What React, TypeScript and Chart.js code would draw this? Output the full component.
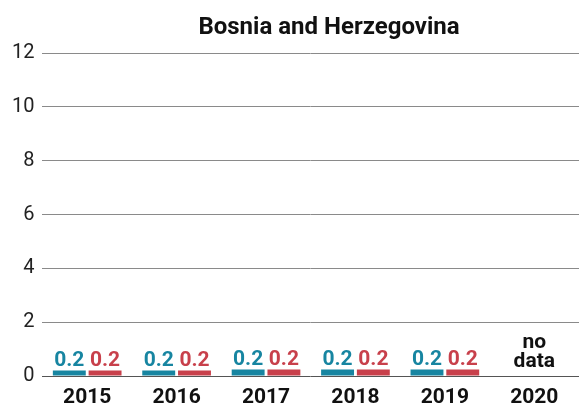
import React, { useEffect, useRef } from "react";
import { Chart, registerables } from "chart.js";

Chart.register(...registerables);

const TITLE = "Bosnia and Herzegovina";
const CATEGORIES = ["2015", "2016", "2017", "2018", "2019", "2020"];
const SERIES_A = [0.2, 0.2, 0.24, 0.24, 0.24, null];
const SERIES_B = [0.2, 0.2, 0.24, 0.24, 0.24, null];
const SERIES_A_NAME = "A";
const SERIES_B_NAME = "B";
const Y_TICKS = [0, 2, 4, 6, 8, 10, 12];
const NO_DATA_LINES = ["no", "data"];

const TEAL = "#1785a1";
const RED = "#c8404b";
const FONT = "Roboto";

export default function App() {
  const ref = useRef<HTMLCanvasElement | null>(null);

  useEffect(() => {
    document.body.style.margin = "0";
    const canvas = ref.current!;
    const labelPlugin = {
      id: "valueLabels",
      afterDatasetsDraw(chart: any) {
        const ctx = chart.ctx;
        ctx.save();
        ctx.font = `bold 21px ${FONT}`;
        ctx.textAlign = "center";
        ctx.textBaseline = "alphabetic";
        chart.data.datasets.forEach((ds: any, di: number) => {
          const meta = chart.getDatasetMeta(di);
          meta.data.forEach((bar: any, i: number) => {
            const v = ds.data[i];
            if (v === null || v === undefined) return;
            ctx.fillStyle = ds.backgroundColor;
            ctx.fillText(v.toFixed(1), bar.x, bar.y - 5);
          });
        });
        const xs = chart.scales.x;
        const ys = chart.scales.y;
        ctx.fillStyle = "#111";
        CATEGORIES.forEach((c, i) => {
          const a = SERIES_A[i];
          const b = SERIES_B[i];
          if (a === null && b === null) {
            const x = xs.getPixelForValue(i);
            const y0 = ys.getPixelForValue(0);
            ctx.fillText(NO_DATA_LINES[0], x, y0 - 28);
            ctx.fillText(NO_DATA_LINES[1], x, y0 - 9);
          }
        });
        ctx.restore();
      },
    };
    const titlePlugin = {
      id: "customTitle",
      afterDraw(chart: any) {
        const ctx = chart.ctx;
        ctx.save();
        ctx.font = `bold 24px ${FONT}`;
        ctx.fillStyle = "#111";
        ctx.textAlign = "center";
        ctx.textBaseline = "middle";
        ctx.fillText(TITLE, 329, 28);
        ctx.restore();
      },
    };
    const chart = new Chart(canvas, {
      type: "bar",
      data: {
        labels: CATEGORIES,
        datasets: [
          {
            label: SERIES_A_NAME,
            data: SERIES_A,
            backgroundColor: TEAL,
            categoryPercentage: 0.8,
            barPercentage: 0.92,
          },
          {
            label: SERIES_B_NAME,
            data: SERIES_B,
            backgroundColor: RED,
            categoryPercentage: 0.8,
            barPercentage: 0.92,
          },
        ],
      },
      options: {
        animation: false,
        responsive: false,
        maintainAspectRatio: false,
        layout: { padding: { top: 53, right: 0, left: 4, bottom: 0 } },
        plugins: {
          legend: { display: false },
          title: { display: false },
          tooltip: { enabled: false },
        },
        scales: {
          x: {
            grid: { display: false, drawTicks: false },
            border: { display: false },
            afterFit(axis: any) {
              axis.height = 29;
            },
            ticks: {
              color: "#111",
              font: { family: FONT, size: 21, weight: "bold" },
              padding: 9,
            },
          },
          y: {
            min: 0,
            max: 12,
            afterBuildTicks(axis: any) {
              axis.ticks = Y_TICKS.map((v) => ({ value: v }));
            },
            grid: {
              drawTicks: false,
              color: (c: any) => (c.tick && c.tick.value === 0 ? "#555" : "#8a8a8a"),
              lineWidth: 1,
            },
            border: { display: false },
            ticks: {
              color: "#222",
              font: { family: FONT, size: 20 },
              padding: 8,
            },
          },
        },
      },
      plugins: [labelPlugin, titlePlugin],
    });
    return () => chart.destroy();
  }, []);

  return (
    <div style={{ width: 579, height: 405, background: "#fff" }}>
      <canvas ref={ref} width={579} height={405} />
    </div>
  );
}
